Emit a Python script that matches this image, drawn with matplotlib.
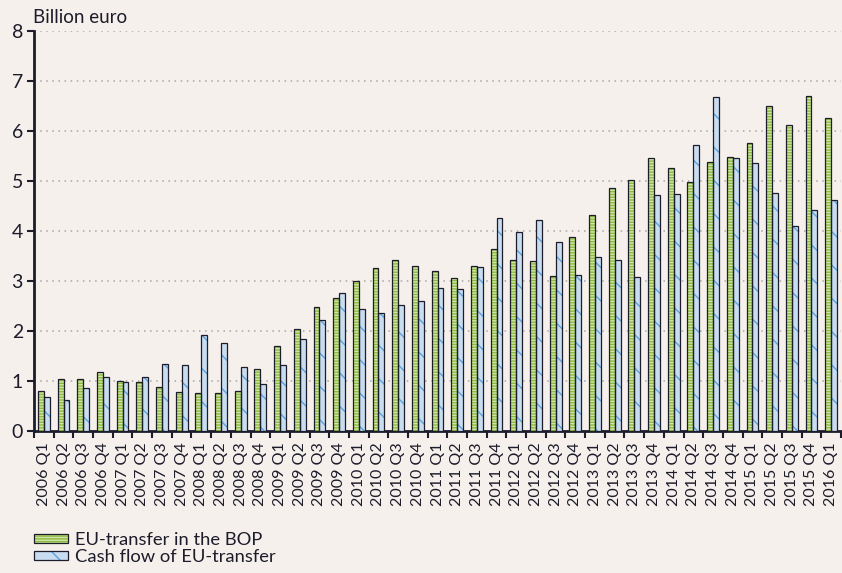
import matplotlib
matplotlib.use("Agg")
import matplotlib.pyplot as plt
from matplotlib.patches import Patch
from matplotlib.legend_handler import HandlerTuple
from matplotlib.ticker import MultipleLocator, FixedLocator
import numpy as np

quarters = ["2006 Q1", "2006 Q2", "2006 Q3", "2006 Q4",
            "2007 Q1", "2007 Q2", "2007 Q3", "2007 Q4",
            "2008 Q1", "2008 Q2", "2008 Q3", "2008 Q4",
            "2009 Q1", "2009 Q2", "2009 Q3", "2009 Q4",
            "2010 Q1", "2010 Q2", "2010 Q3", "2010 Q4",
            "2011 Q1", "2011 Q2", "2011 Q3", "2011 Q4",
            "2012 Q1", "2012 Q2", "2012 Q3", "2012 Q4",
            "2013 Q1", "2013 Q2", "2013 Q3", "2013 Q4",
            "2014 Q1", "2014 Q2", "2014 Q3", "2014 Q4",
            "2015 Q1", "2015 Q2", "2015 Q3", "2015 Q4",
            "2016 Q1"]

eu_transfer_bop = [0.81, 1.05, 1.05, 1.18, 1.01, 0.98, 0.89, 0.79,
                   0.76, 0.76, 0.81, 1.25, 1.70, 2.05, 2.49, 2.67,
                   3.01, 3.27, 3.43, 3.31, 3.21, 3.07, 3.31, 3.65,
                   3.43, 3.41, 3.11, 3.88, 4.33, 4.87, 5.02, 5.47,
                   5.27, 4.99, 5.39, 5.49, 5.76, 6.51, 6.13, 6.71,
                   6.26]

cash_flow = [0.69, 0.63, 0.86, 1.08, 0.98, 1.08, 1.35, 1.33,
             1.93, 1.77, 1.28, 0.95, 1.33, 1.85, 2.22, 2.77,
             2.44, 2.37, 2.52, 2.61, 2.87, 2.84, 3.29, 4.27,
             3.98, 4.23, 3.78, 3.13, 3.48, 3.43, 3.09, 4.72,
             4.75, 5.73, 6.68, 5.47, 5.37, 4.77, 4.11, 4.43,
             4.63]

bg = "#f6f0ec"
dark = "#1c1c2a"
green = "#8cbc3c"
green_hatch = "#d2e4ac"
blue = "#c9ddf1"
blue_hatch = "#5aa2de"

plt.rcParams["font.family"] = ["Lato", "DejaVu Sans"]
plt.rcParams["hatch.linewidth"] = 1.0

fig = plt.figure(figsize=(8.42, 5.73), dpi=100, facecolor=bg)
ax = fig.add_axes([0.0404, 0.2478, 0.9584, 0.6981])
ax.set_facecolor(bg)

x = np.arange(len(quarters))
w = 0.3

# filled + hatched layer, then outline layer on top
ax.bar(x - w / 2, eu_transfer_bop, w, color=green, hatch="------",
       edgecolor=green_hatch, linewidth=0, zorder=3)
ax.bar(x - w / 2, eu_transfer_bop, w, fill=False, edgecolor=dark,
       linewidth=0.9, zorder=4)
ax.bar(x + w / 2, cash_flow, w, color=blue, hatch="\\",
       edgecolor=blue_hatch, linewidth=0, zorder=3)
ax.bar(x + w / 2, cash_flow, w, fill=False, edgecolor=dark,
       linewidth=0.9, zorder=4)

ax.set_xlim(-0.5, len(quarters) - 0.5)
ax.set_ylim(0, 8)
ax.yaxis.set_major_locator(MultipleLocator(1))
ax.grid(axis="y", color="#a6a6a6", linestyle=(0, (1, 3)), linewidth=1.1, zorder=0)

ax.set_xticks(x)
ax.set_xticklabels(quarters, rotation=90, fontsize=11.5, color=dark)
ax.tick_params(axis="x", which="major", length=0, pad=8)
ax.xaxis.set_minor_locator(FixedLocator(np.arange(-0.5, len(quarters), 1)))
ax.tick_params(axis="x", which="minor", length=5, width=1.5, color=dark, direction="out")
ax.tick_params(axis="y", length=5, width=1.5, color=dark, labelsize=14,
               labelcolor=dark, pad=3)

for s in ["top", "right"]:
    ax.spines[s].set_visible(False)
for s in ["left", "bottom"]:
    ax.spines[s].set_linewidth(2)
    ax.spines[s].set_color(dark)

fig.text(0.0395, 0.97, "Billion euro", fontsize=13.5, color=dark, ha="left", va="center")

h_green = (Patch(facecolor=green, hatch="------", edgecolor=green_hatch, linewidth=0),
           Patch(fill=False, edgecolor=dark, linewidth=0.9))
h_blue = (Patch(facecolor=blue, hatch="\\", edgecolor=blue_hatch, linewidth=0),
          Patch(fill=False, edgecolor=dark, linewidth=0.9))
fig.legend([h_green, h_blue], ["EU-transfer in the BOP", "Cash flow of EU-transfer"],
           handler_map={tuple: HandlerTuple(ndivide=1)},
           loc="lower left", bbox_to_anchor=(0.0404, 0.014), frameon=False,
           borderpad=0, borderaxespad=0,
           fontsize=13.2, handlelength=1.86, handleheight=0.45, handletextpad=0.4,
           labelspacing=0.05, labelcolor=dark)

fig.savefig("out.png", dpi=100, facecolor=bg)
